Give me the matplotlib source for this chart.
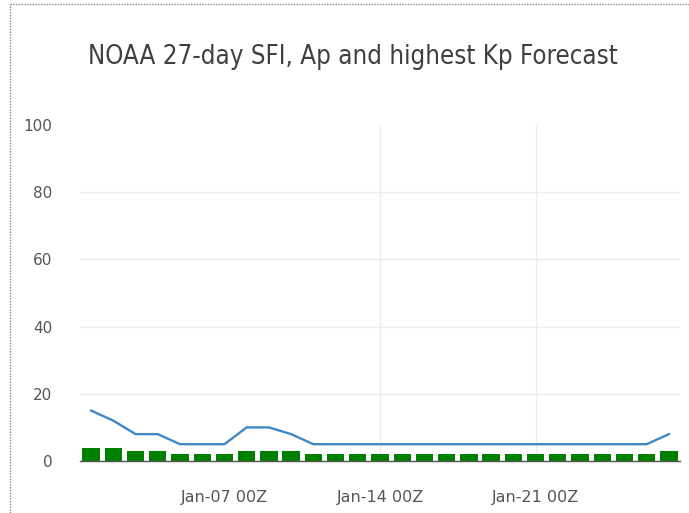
import matplotlib
matplotlib.use("Agg")
import matplotlib.pyplot as plt
from matplotlib.lines import Line2D

days = ["Jan-%02d 00Z" % d for d in range(1, 28)]
ap_values = [15, 12, 8, 8, 5, 5, 5, 10, 10, 8, 5, 5, 5, 5, 5, 5, 5, 5, 5, 5, 5, 5, 5, 5, 5, 5, 8]
kp_values = [4, 4, 3, 3, 2, 2, 2, 3, 3, 3, 2, 2, 2, 2, 2, 2, 2, 2, 2, 2, 2, 2, 2, 2, 2, 2, 3]
tick_labels = ["Jan-07 00Z", "Jan-14 00Z", "Jan-21 00Z"]
y_ticks = [0, 20, 40, 60, 80, 100]

plt.rcParams['font.family'] = ['DejaVu Sans']

W, H = 689, 513
fig = plt.figure(figsize=(W / 100, H / 100), dpi=100)
fig.patch.set_facecolor('white')

ax = fig.add_axes([80 / W, (H - 461) / H, 600 / W, 336 / H])
x = list(range(len(days)))

# grid
for yv in y_ticks:
    if 0 < yv < 100:
        ax.axhline(yv, color='#ececec', lw=1.0, zorder=0)
tick_pos = [days.index(t) for t in tick_labels]
for tp in tick_pos[1:]:
    ax.axvline(tp, color='#ececec', lw=1.0, zorder=0)

ax.bar(x, kp_values, width=0.78, color='#008000', zorder=2)
ax.plot(x, ap_values, color='#3f88c5', lw=1.7, zorder=3, solid_joinstyle='round')

ax.set_xlim(-0.5, len(days) - 0.5)
ax.set_ylim(0, 100)
ax.set_yticks(y_ticks)
ax.set_yticklabels([str(v) for v in y_ticks], color='#555555', fontsize=11)
ax.set_xticks(tick_pos)
ax.set_xticklabels(tick_labels, color='#555555', fontsize=11.5)
ax.tick_params(axis='both', length=0)
ax.tick_params(axis='y', pad=20)
ax.tick_params(axis='x', pad=21)
for s in ['top', 'right', 'left']:
    ax.spines[s].set_visible(False)
ax.spines['bottom'].set_color('#555555')
ax.spines['bottom'].set_linewidth(1.0)

fig.text(353 / W, 1 - 57 / H, "NOAA 27-day SFI, Ap and highest Kp Forecast",
         ha='center', va='center', fontsize=18.5, color='#404040',
         family='DejaVu Sans', stretch='condensed')

# dotted border
fig.add_artist(Line2D([10 / W, 10 / W], [0, 1 - 4 / H], transform=fig.transFigure,
                      color='#888888', lw=1, ls=(0, (1, 1))))
fig.add_artist(Line2D([10 / W, 1], [1 - 4 / H, 1 - 4 / H], transform=fig.transFigure,
                      color='#888888', lw=1, ls=(0, (1, 1))))

fig.savefig("out.png", dpi=100, facecolor='white')
